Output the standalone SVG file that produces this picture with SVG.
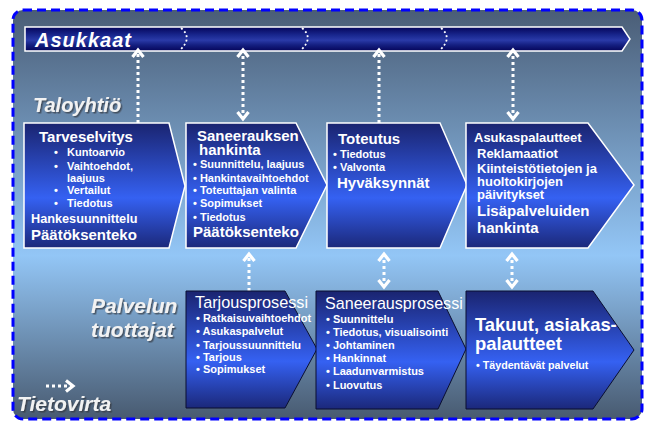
<svg xmlns="http://www.w3.org/2000/svg" width="649" height="423" viewBox="0 0 649 423">
<defs>
<linearGradient id="bg" x1="0" y1="0" x2="0" y2="1">
<stop offset="0" stop-color="#4a5d76"/>
<stop offset="0.6" stop-color="#93c6f6"/>
<stop offset="1" stop-color="#485a70"/>
</linearGradient>
<linearGradient id="bar" x1="0" y1="0" x2="0" y2="1">
<stop offset="0" stop-color="#05055a"/>
<stop offset="0.35" stop-color="#1a2890"/>
<stop offset="0.55" stop-color="#2a3aa8"/>
<stop offset="0.75" stop-color="#141f80"/>
<stop offset="1" stop-color="#05055a"/>
</linearGradient>
<linearGradient id="box" x1="0" y1="0" x2="0" y2="1">
<stop offset="0" stop-color="#1a2470"/>
<stop offset="0.6" stop-color="#3561f2"/>
<stop offset="1" stop-color="#1b287a"/>
</linearGradient>
<filter id="sh" x="-10%" y="-20%" width="130%" height="150%">
<feDropShadow dx="1.5" dy="1.5" stdDeviation="0.6" flood-color="#303840" flood-opacity="0.7"/>
</filter>
<marker id="ah" viewBox="0 0 14 14" refX="11" refY="7" markerWidth="14" markerHeight="14" markerUnits="userSpaceOnUse" orient="auto-start-reverse">
<polyline points="4,1.5 11,7 4,12.5" fill="none" stroke="#ffffff" stroke-width="3.2" stroke-linejoin="miter"/>
</marker>
</defs>
<style>
.t{font-family:"Liberation Sans",Arial,sans-serif;fill:#ffffff;font-weight:bold}
.n{font-weight:normal}
.lbl{font-family:"Liberation Sans",Arial,sans-serif;fill:#f2f2f2;font-weight:bold;font-style:italic;filter:url(#sh)}
.top{fill:url(#box);stroke:#ffffff;stroke-width:1.5}
.bot{fill:url(#box);stroke:#0a0f30;stroke-width:1}
.flow{fill:none;stroke:#ffffff;stroke-width:3;stroke-dasharray:3 3}
.sep{fill:none;stroke:#ffffff;stroke-width:1.8;stroke-dasharray:2 2.5}
.s11{font-size:11px}
.s13{font-size:13px}
.s15{font-size:15px}
</style>
<rect x="13" y="10" width="629" height="409" rx="10" fill="url(#bg)" stroke="#0000ff" stroke-width="3" stroke-dasharray="9 5"/>

<g id="asukkaat">
<polygon points="25,27 622,27 630,39 622,51 25,51" fill="url(#bar)" stroke="#ffffff" stroke-width="1.5"/>
<path class="sep" d="M181,28 Q193,38 180,50"/>
<path class="sep" d="M302,28 Q314,38 301,50"/>
<path class="sep" d="M441,28 Q453,38 440,50"/>
<text class="t" x="35" y="47" font-size="20" font-style="italic" letter-spacing="1">Asukkaat</text>
</g>

<g id="labels">
<text class="lbl" x="33" y="112" font-size="20">Taloyhtiö</text>
<text class="lbl" x="91" y="313" font-size="21">Palvelun</text>
<text class="lbl" x="91" y="337" font-size="21">tuottajat</text>
<text class="lbl" x="17" y="411" font-size="21">Tietovirta</text>
</g>

<g id="connectors">
<line class="flow" x1="138" y1="123" x2="138" y2="50" marker-end="url(#ah)"/>
<line class="flow" x1="243" y1="119" x2="243" y2="50" marker-start="url(#ah)" marker-end="url(#ah)"/>
<line class="flow" x1="379" y1="123" x2="379" y2="50" marker-end="url(#ah)"/>
<line class="flow" x1="513" y1="119" x2="513" y2="50" marker-start="url(#ah)" marker-end="url(#ah)"/>
<line class="flow" x1="249" y1="291" x2="249" y2="254" marker-end="url(#ah)"/>
<line class="flow" x1="384" y1="287" x2="384" y2="254" marker-start="url(#ah)" marker-end="url(#ah)"/>
<line class="flow" x1="512" y1="287" x2="512" y2="254" marker-start="url(#ah)" marker-end="url(#ah)"/>
<line class="flow" x1="46" y1="386" x2="73" y2="386" marker-end="url(#ah)"/>
</g>

<g id="tarveselvitys">
<polygon class="top" points="24,123 169,123 185,186 169,248 24,248"/>
<text class="t s15" x="39" y="142" font-size="14.6">Tarveselvitys</text>
<text class="t s11" x="54" y="156">•</text><text class="t s11" x="67" y="156">Kuntoarvio</text>
<text class="t s11" x="54" y="170">•</text><text class="t s11" x="67" y="170">Vaihtoehdot,</text>
<text class="t s11" x="67" y="182">laajuus</text>
<text class="t s11" x="54" y="194">•</text><text class="t s11" x="67" y="194">Vertailut</text>
<text class="t s11" x="54" y="207">•</text><text class="t s11" x="67" y="207">Tiedotus</text>
<text class="t" x="31" y="223" font-size="12.7">Hankesuunnittelu</text>
<text class="t s15" x="31" y="240">Päätöksenteko</text>
</g>

<g id="saneerauksen-hankinta">
<polygon class="top" points="186,123 296,123 327,185 296,248 186,248"/>
<text class="t s15" x="197" y="141">Saneerauksen</text>
<text class="t s15" x="199" y="155">hankinta</text>
<text class="t s11" x="193" y="168">• Suunnittelu, laajuus</text>
<text class="t s11" x="193" y="182">• Hankintavaihtoehdot</text>
<text class="t s11" x="193" y="194">• Toteuttajan valinta</text>
<text class="t s11" x="193" y="207">• Sopimukset</text>
<text class="t s11" x="193" y="221">• Tiedotus</text>
<text class="t s15" x="193" y="237">Päätöksenteko</text>
</g>

<g id="toteutus">
<polygon class="top" points="327,123 440,123 467,185 440,248 327,248"/>
<text class="t s15" x="338" y="144">Toteutus</text>
<text class="t s11" x="333" y="158">• Tiedotus</text>
<text class="t s11" x="333" y="171">• Valvonta</text>
<text class="t s15" x="337" y="188">Hyväksynnät</text>
</g>

<g id="asukaspalautteet">
<polygon class="top" points="466,123 588,123 634,185 588,248 466,248"/>
<text class="t s13" x="474" y="142" font-size="12.8">Asukaspalautteet</text>
<text class="t s13" x="477" y="158">Reklamaatiot</text>
<text class="t s13" x="477" y="173" font-size="12.8">Kiinteistötietojen ja</text>
<text class="t s13" x="477" y="186">huoltokirjojen</text>
<text class="t s13" x="477" y="199">päivitykset</text>
<text class="t s15" x="477" y="216">Lisäpalveluiden</text>
<text class="t s15" x="477" y="233">hankinta</text>
</g>

<g id="tarjousprosessi">
<polygon class="bot" points="186,291 285,291 317,349 285,408 186,408"/>
<text class="t n" x="195" y="308" font-size="16.3">Tarjousprosessi</text>
<text class="t s11" x="196" y="322">• Ratkaisuvaihtoehdot</text>
<text class="t s11" x="196" y="335">• Asukaspalvelut</text>
<text class="t s11" x="196" y="349">• Tarjoussuunnittelu</text>
<text class="t s11" x="196" y="361">• Tarjous</text>
<text class="t s11" x="196" y="373">• Sopimukset</text>
</g>

<g id="saneerausprosessi">
<polygon class="bot" points="316,291 438,291 466,349 438,409 316,409"/>
<text class="t n" x="325" y="309" font-size="16.1">Saneerausprosessi</text>
<text class="t s11" x="326" y="323">• Suunnittelu</text>
<text class="t s11" x="326" y="336" font-size="10.8">• Tiedotus, visualisointi</text>
<text class="t s11" x="326" y="349">• Johtaminen</text>
<text class="t s11" x="326" y="362">• Hankinnat</text>
<text class="t s11" x="326" y="375">• Laadunvarmistus</text>
<text class="t s11" x="326" y="389">• Luovutus</text>
</g>

<g id="takuut">
<polygon class="bot" points="466,291 593,291 634,350 593,409 466,409"/>
<text class="t" x="475" y="331" font-size="18.4">Takuut, asiakas-</text>
<text class="t" x="475" y="350" font-size="18.4">palautteet</text>
<text class="t" x="476" y="369" font-size="10.7">• Täydentävät palvelut</text>
</g>
</svg>
